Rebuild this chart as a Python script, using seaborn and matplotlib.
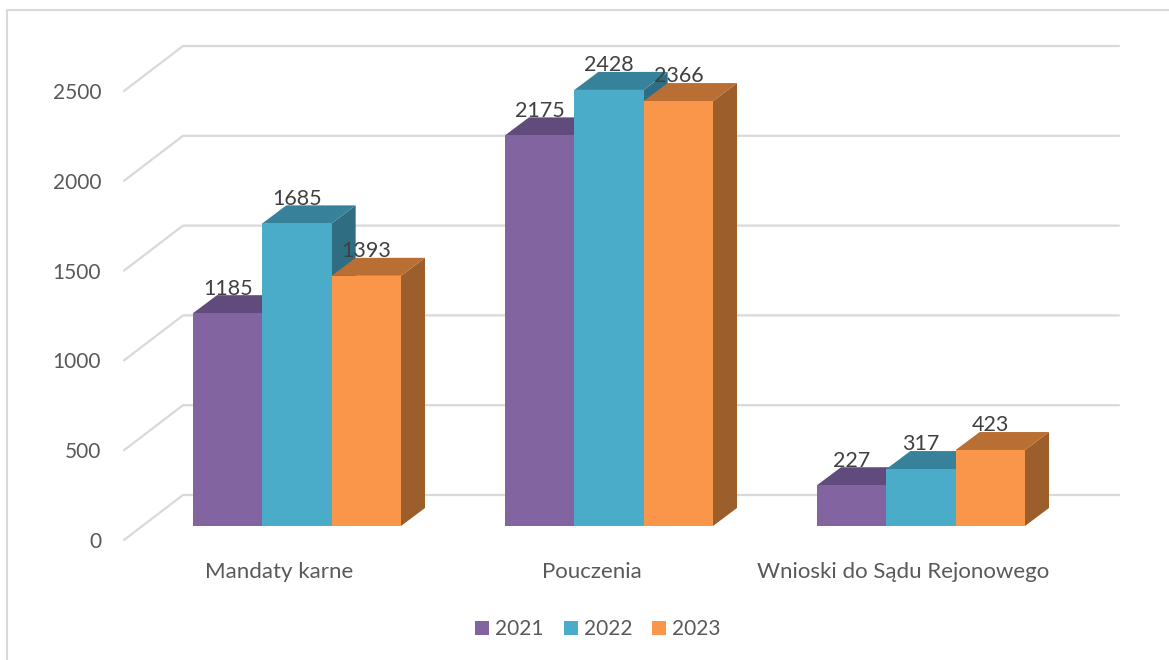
import pandas as pd
import matplotlib.pyplot as plt
import seaborn as sns
from matplotlib.patches import Polygon
from matplotlib.transforms import ScaledTranslation

categories = ["Mandaty karne", "Pouczenia", "Wnioski do Sądu Rejonowego"]
years = ["2021", "2022", "2023"]
values_2021 = [1185, 2175, 227]
values_2022 = [1685, 2428, 317]
values_2023 = [1393, 2366, 423]
y_ticks = [0, 500, 1000, 1500, 2000, 2500]

front_colors = ["#8264A0", "#4AACC8", "#F9964A"]
top_colors = ["#614B7C", "#38819A", "#B96F33"]
side_colors = ["#553F6E", "#2F6E82", "#9C5E2B"]

W, H = 1169, 660
sns.set_theme(style="white")
plt.rcParams["font.family"] = ["Lato", "DejaVu Sans"]

df = pd.DataFrame({
    "cat": categories * 3,
    "year": [y for y in years for _ in categories],
    "value": values_2021 + values_2022 + values_2023,
})

fig = plt.figure(figsize=(W / 100, H / 100), dpi=100)

# axes in pixel terms: floor of bars at y=526, one group every 312px
left, right, top, bottom = 124, 1119, 46, 540
ax = fig.add_axes([left / W, 1 - bottom / H, (right - left) / W, (bottom - top) / H])
px_per_val = 449 / 2500
px_per_cat = 312

sns.barplot(data=df, x="cat", y="value", hue="year", hue_order=years,
            palette=front_colors, width=2 / 3, saturation=1, linewidth=0,
            errorbar=None, ax=ax)
ax.set_xlim((left - 297) / px_per_cat, (right - 297) / px_per_cat)
ax.set_ylim(-(bottom - 526) / px_per_val, (526 - top) / px_per_val)


def dx(px):
    return px / px_per_cat


def dy(px):
    return px / px_per_val


# gridlines with the slanted wall part
for v in y_ticks:
    y_front = v - dy(14)
    y_back = v + dy(31)
    ax.plot([(124 - 297) / px_per_cat, (183 - 297) / px_per_cat, (1119 - 297) / px_per_cat],
            [y_front, y_back, y_back], color="#D9D9D9", lw=1.6, zorder=0.5,
            clip_on=False, solid_joinstyle="miter")

# side and top faces of each bar
depth_x, depth_y = dx(24), dy(18)
for i, cont in enumerate(ax.containers):
    z = 2 + i
    for bar in cont:
        x0 = bar.get_x()
        x1 = x0 + bar.get_width()
        h = bar.get_height()
        bar.set_zorder(z + 0.2)
        ax.add_patch(Polygon([(x1, 0), (x1 + depth_x, depth_y), (x1 + depth_x, h + depth_y), (x1, h)],
                             closed=True, fc=side_colors[i], ec="none", zorder=z))
        ax.add_patch(Polygon([(x0, h), (x0 + depth_x, h + depth_y), (x1 + depth_x, h + depth_y), (x1, h)],
                             closed=True, fc=top_colors[i], ec="none", zorder=z + 0.1))
    labels = ax.bar_label(cont, padding=10.5, fontsize=15.5, color="#404040")
    for t in labels:
        t.set_zorder(10)

for s in ax.spines.values():
    s.set_visible(False)
ax.set_xlabel("")
ax.set_ylabel("")
ax.set_yticks(y_ticks)
ax.tick_params(axis="y", length=0, pad=16.4, labelsize=15, labelcolor="#595959")
ax.tick_params(axis="x", length=0, pad=15.5, labelsize=16, labelcolor="#595959")
# value labels sit on the front floor line, lower than the bars' base
shift = ScaledTranslation(0, -14 / 100, fig.dpi_scale_trans)
for lab in ax.get_yticklabels():
    lab.set_transform(lab.get_transform() + shift)
# category names sit left of the bar groups
shift_x = ScaledTranslation(-17.5 / 100, 0, fig.dpi_scale_trans)
for lab in ax.get_xticklabels():
    lab.set_transform(lab.get_transform() + shift_x)

handles, names = ax.get_legend_handles_labels()
ax.legend(handles, names, loc="center", bbox_to_anchor=(598 / W, 1 - 629 / H),
          bbox_transform=fig.transFigure, ncol=3, frameon=False, fontsize=15,
          labelcolor="#595959", handlelength=0.67, handleheight=0.67,
          handletextpad=0.29, columnspacing=0.96)

# chart border, runs off the picture at right and bottom
fig.add_artist(plt.Line2D([7 / W, 7 / W, 1], [0, 1 - 10 / H, 1 - 10 / H],
                          color="#D9D9D9", lw=1.5))

fig.savefig("out.png", dpi=100)
